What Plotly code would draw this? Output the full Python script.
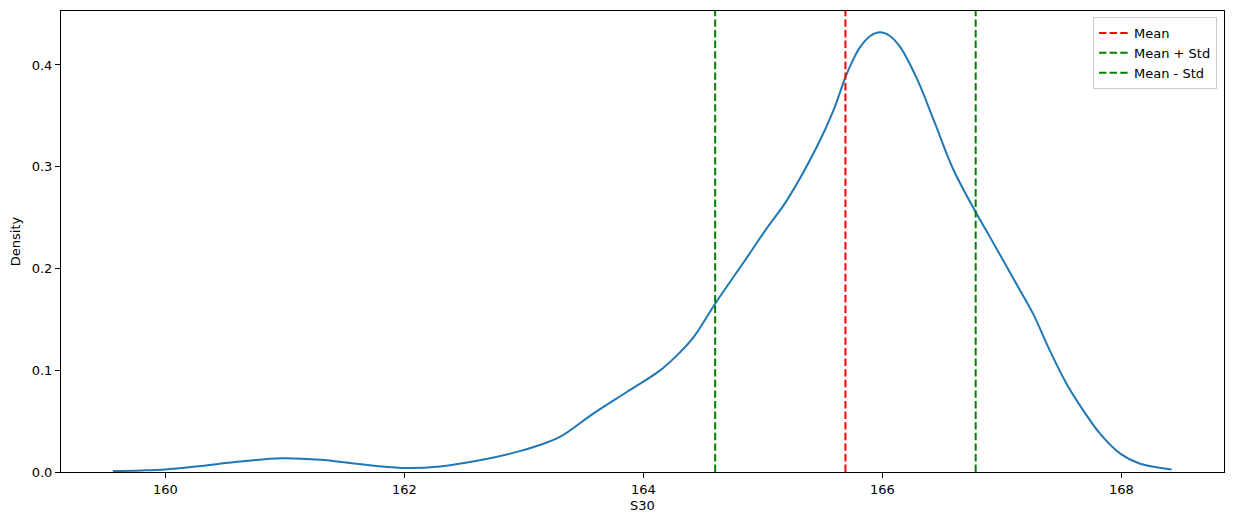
import plotly.graph_objects as go

# KDE curve of S30
kde_x = [159.56, 159.8, 160.0, 160.3, 160.6, 160.97, 161.3, 161.6, 161.98, 162.3,
         162.63, 162.95, 163.12, 163.30, 163.58, 163.86, 164.14, 164.28, 164.42,
         164.60, 164.84, 165.03, 165.20, 165.45, 165.59, 165.69, 165.75, 165.81, 165.90,
         165.98, 166.06, 166.15, 166.29, 166.43, 166.59, 166.78, 166.90, 167.12, 167.26,
         167.40, 167.54, 167.68, 167.82, 167.99, 168.15, 168.42]
kde_y = [0.001, 0.0015, 0.0025, 0.006, 0.010, 0.0135, 0.012, 0.008, 0.0040, 0.0055,
         0.0115, 0.020, 0.026, 0.0344, 0.0574, 0.0786, 0.0999, 0.1146, 0.1326,
         0.1654, 0.2063, 0.2391, 0.2669, 0.3193, 0.3553, 0.388, 0.404, 0.417, 0.4287,
         0.432, 0.4287, 0.4172, 0.386, 0.3455, 0.298, 0.2554, 0.2308, 0.185, 0.1556,
         0.1195, 0.0868, 0.0606, 0.0377, 0.0181, 0.0083, 0.0024]

mean_val = 165.69
std_val = 1.09
ref_names = ["Mean", "Mean + Std", "Mean - Std"]
ref_values = [mean_val, mean_val + std_val, mean_val - std_val]
ref_colors = ["#ff0000", "#008000", "#008000"]

x_ticks = [160, 162, 164, 166, 168]
y_ticks = [0.0, 0.1, 0.2, 0.3, 0.4]

x_range = [159.126, 168.858]
y_range = [0, 0.453]

fig = go.Figure()
fig.add_trace(go.Scatter(x=kde_x, y=kde_y, mode="lines",
                         line=dict(color="#1f77b4", width=2, shape="spline", smoothing=1.0),
                         showlegend=False, hoverinfo="skip"))
for name, val, col in zip(ref_names, ref_values, ref_colors):
    fig.add_trace(go.Scatter(x=[val, val], y=y_range, mode="lines", name=name,
                             line=dict(color=col, width=2, dash="7.4px,3.2px")))

axis_common = dict(showline=True, linecolor="black", linewidth=1, mirror=True,
                   ticks="outside", ticklen=5, tickwidth=1, tickcolor="black",
                   showgrid=False, zeroline=False,
                   tickfont=dict(family="DejaVu Sans", size=13, color="black"))

fig.update_xaxes(range=x_range, tickvals=x_ticks, ticktext=[str(t) for t in x_ticks],
                 title=dict(text="S30", font=dict(family="DejaVu Sans", size=13, color="black"),
                            standoff=5),
                 **axis_common)
fig.update_yaxes(range=y_range, tickvals=y_ticks, ticktext=[f"{t:.1f}" for t in y_ticks],
                 title=dict(text="Density", font=dict(family="DejaVu Sans", size=13, color="black"),
                            standoff=8),
                 **axis_common)

fig.update_layout(
    width=1233, height=525,
    margin=dict(l=53, r=17, t=3, b=61),
    plot_bgcolor="white", paper_bgcolor="white",
    font=dict(family="DejaVu Sans", size=13, color="black"),
    legend=dict(x=0.994, y=0.987, xanchor="right", yanchor="top",
                bgcolor="rgba(255,255,255,0.8)", bordercolor="#cccccc", borderwidth=1,
                font=dict(family="DejaVu Sans", size=13, color="black"),
                tracegroupgap=0, itemwidth=30),
)

fig.write_html("out.html")
